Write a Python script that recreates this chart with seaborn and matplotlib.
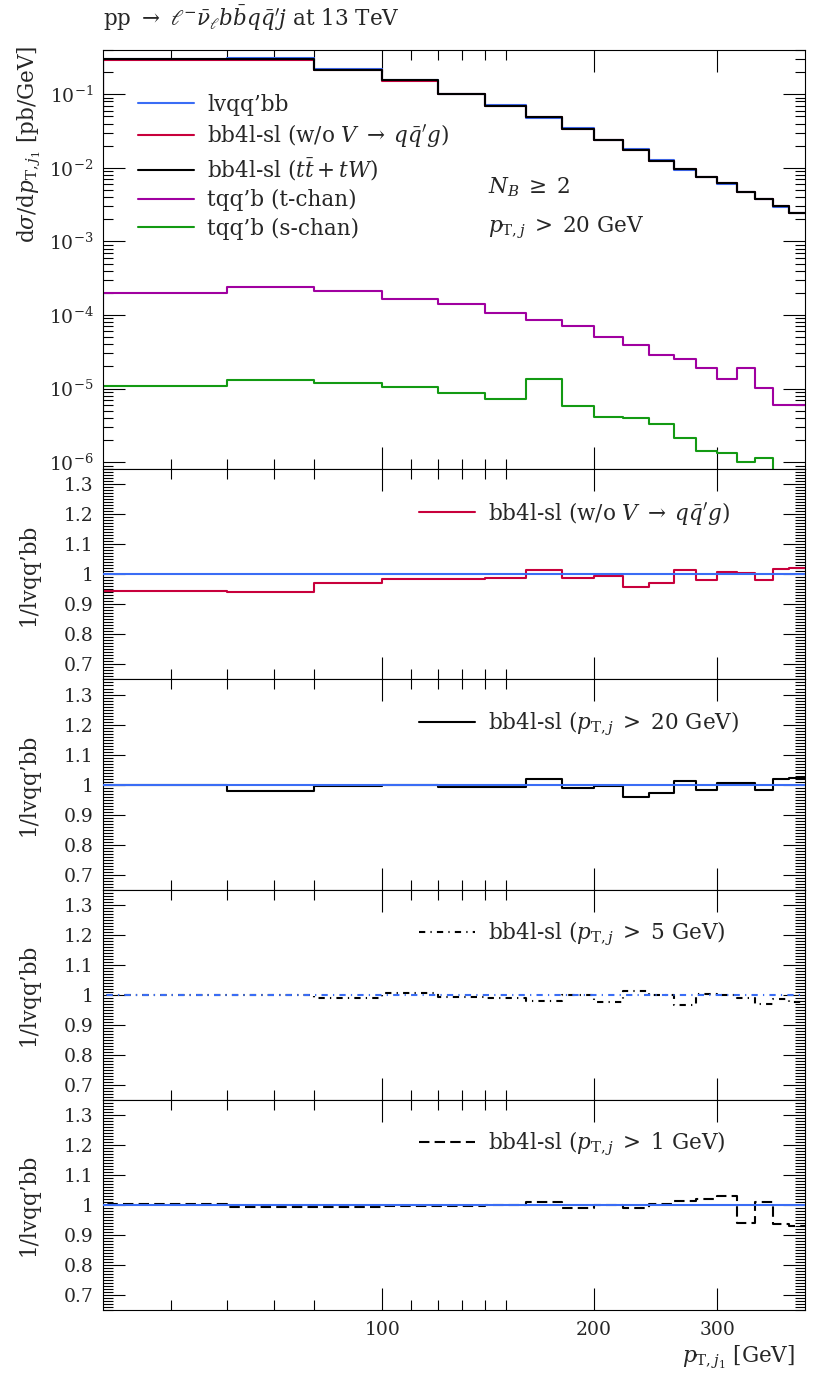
import numpy as np
import matplotlib
matplotlib.use("Agg")
import matplotlib.pyplot as plt
import matplotlib.ticker as mticker
import seaborn as sns

# bin edges in pT (GeV); first bin (20-40) lies left of the visible range
edges = [20, 40, 60, 80, 100, 120, 140, 160, 180, 200, 220, 240, 260, 280, 300, 320, 340, 360, 380, 400]

# dsigma/dpT [pb/GeV]
lvqqbb = [0.055, 0.305, 0.31, 0.218, 0.154, 0.101, 0.0705, 0.048, 0.0345, 0.0238, 0.0182, 0.0129,
          0.0094, 0.0076, 0.0061, 0.0047, 0.0038, 0.00294, 0.00241]
tchan = [9.1e-5, 2.01e-4, 2.43e-4, 2.12e-4, 1.63e-4, 1.39e-4, 1.07e-4, 8.5e-5, 7.1e-5, 5.0e-5, 3.9e-5,
         2.9e-5, 2.5e-5, 1.9e-5, 1.36e-5, 1.91e-5, 1.02e-5, 6.0e-6, 6.0e-6]
schan = [3.0e-6, 1.1e-5, 1.31e-5, 1.19e-5, 1.06e-5, 8.6e-6, 7.25e-6, 1.35e-5, 5.75e-6, 4.07e-6, 3.97e-6,
         3.3e-6, 2.16e-6, 1.41e-6, 1.35e-6, 1.02e-6, 1.14e-6, 1e-9, 1e-9]

# ratios to lvqq'bb
ratio_noV = [0.85, 0.944, 0.943, 0.972, 0.984, 0.985, 0.988, 1.014, 0.987, 0.994, 0.959, 0.970,
             1.014, 0.981, 1.007, 1.005, 0.981, 1.019, 1.022]
ratio_pt20 = [1.0, 0.998, 0.978, 0.994, 1.0, 0.992, 0.992, 1.017, 0.987, 0.994, 0.957, 0.971,
              1.012, 0.981, 1.006, 1.004, 0.981, 1.018, 1.021]
ratio_pt5 = [1.0, 1.0, 1.0, 0.988, 1.007, 0.994, 0.990, 0.980, 0.998, 0.975, 1.012, 0.999,
             0.966, 1.002, 0.999, 0.990, 0.968, 0.985, 0.975]
ratio_pt1 = [1.0, 1.003, 0.993, 0.993, 0.995, 0.997, 1.0, 1.01, 0.991, 1.0, 0.991, 1.004,
             1.012, 1.02, 1.029, 0.94, 1.01, 0.938, 0.929]

x_major = [100, 200, 300]
x_major_labels = ["100", "200", "300"]
x_minor = [50, 60, 70, 80, 110, 120, 130, 140, 150]
r_ticks = [0.7, 0.8, 0.9, 1.0, 1.1, 1.2, 1.3]
r_ticklabels = ["0.7", "0.8", "0.9", "1", "1.1", "1.2", "1.3"]

BLUE = "#3a6df5"
RED = "#c8003c"
MAGENTA = "#a000a0"
GREEN = "#139a13"
FS = 15.5

sns.set_style("ticks")
plt.rcParams["font.family"] = ["DejaVu Serif"]
plt.rcParams["mathtext.fontset"] = "dejavuserif"
plt.rcParams["axes.linewidth"] = 0.8

noV = [a * b for a, b in zip(lvqqbb, ratio_noV)]
ttw = [a * b for a, b in zip(lvqqbb, ratio_pt20)]


def step(ax, vals, color, label=None, ls="-", lw=1.5, z=2):
    y = list(vals) + [vals[-1]]
    sns.lineplot(x=edges, y=y, ax=ax, color=color, lw=lw, linestyle=ls,
                 drawstyle="steps-post", label=label, zorder=z, legend=False)


fig = plt.figure(figsize=(8.3, 13.8), dpi=100)
gs = fig.add_gridspec(5, 1, height_ratios=[419, 210, 210, 210, 210], hspace=0,
                      left=0.1241, right=0.9699, top=0.9638, bottom=0.0507)
axes = [fig.add_subplot(gs[i]) for i in range(5)]

for ax in axes:
    ax.set_xscale("log")

# main panel
ax = axes[0]
ax.set_yscale("log")
step(ax, lvqqbb, BLUE, "lvqq’bb")
step(ax, noV, RED, r"bb4l-sl (w/o $V\;\rightarrow\;q\bar{q}^{\prime}g$)")
step(ax, ttw, "black", r"bb4l-sl ($t\bar{t} + tW$)")
step(ax, tchan, MAGENTA, "tqq’b (t-chan)")
step(ax, schan, GREEN, "tqq’b (s-chan)")
ax.set_ylim(8e-7, 0.4)
ax.yaxis.set_major_locator(mticker.LogLocator(base=10, numticks=20))
ax.yaxis.set_minor_locator(mticker.LogLocator(base=10, subs=np.arange(2, 10), numticks=50))
ax.yaxis.set_minor_formatter(mticker.NullFormatter())
ax.legend(loc="upper left", bbox_to_anchor=(0.05, 0.895), frameon=False, fontsize=FS,
          handlelength=2.6, handletextpad=0.6, labelspacing=0.3, borderpad=0, borderaxespad=0)
ax.text(0.548, 0.673, r"$N_B\;\geq\;2$", transform=ax.transAxes, fontsize=FS, va="center")
ax.text(0.548, 0.575, r"$p_{\mathrm{T},j}\;>\;20$ GeV", transform=ax.transAxes, fontsize=FS, va="center")
ax.set_ylabel(r"d$\sigma$/d$p_{\mathrm{T},j_1}$ [pb/GeV]", fontsize=FS, loc="top")
ax.yaxis.set_label_coords(-0.085, 1.01)

# ratio panels
ratio_sets = [
    (ratio_noV, RED, "-", "-", r"bb4l-sl (w/o $V\;\rightarrow\;q\bar{q}^{\prime}g$)"),
    (ratio_pt20, "black", "-", "-", r"bb4l-sl ($p_{\mathrm{T},j}\;>\;20$ GeV)"),
    (ratio_pt5, "black", (0, (3, 2.5, 0.6, 2.5)), (0, (3, 2.5, 0.6, 2.5)), r"bb4l-sl ($p_{\mathrm{T},j}\;>\;5$ GeV)"),
    (ratio_pt1, "black", (0, (5, 2.5)), "-", r"bb4l-sl ($p_{\mathrm{T},j}\;>\;1$ GeV)"),
]
ones = [1.0] * len(lvqqbb)
for ax, (vals, col, ls, ref_ls, lab) in zip(axes[1:], ratio_sets):
    step(ax, vals, col, lab, ls=ls, z=2)
    step(ax, ones, BLUE, None, ls=ref_ls, z=3)
    ax.set_ylim(0.65, 1.35)
    ax.yaxis.set_major_locator(mticker.FixedLocator(r_ticks))
    ax.yaxis.set_major_formatter(mticker.FixedFormatter(r_ticklabels))
    ax.yaxis.set_minor_locator(mticker.MultipleLocator(0.01))
    ax.legend(loc="upper left", bbox_to_anchor=(0.45, 0.855), frameon=False, fontsize=FS,
              handlelength=2.6, handletextpad=0.6, borderpad=0, borderaxespad=0)
    ax.set_ylabel("1/lvqq’bb", fontsize=FS)
    ax.yaxis.set_label_coords(-0.09, 0.5)

for i, ax in enumerate(axes):
    ax.set_xlim(40, 400)
    ax.xaxis.set_major_locator(mticker.FixedLocator(x_major))
    ax.xaxis.set_minor_locator(mticker.FixedLocator(x_minor))
    ax.xaxis.set_minor_formatter(mticker.NullFormatter())
    ax.xaxis.set_major_formatter(mticker.FixedFormatter(x_major_labels))
    ax.tick_params(which="both", direction="in", top=True, right=True, width=0.8,
                   labelsize=FS - 2, color="black")
    ax.tick_params(which="major", length=16)
    ax.tick_params(which="minor", length=7)
    ax.tick_params(axis="y", pad=7)
    ax.tick_params(axis="x", pad=8, labelbottom=(i == 4))
    for s in ax.spines.values():
        s.set_color("black")

axes[-1].set_xlabel(r"$p_{\mathrm{T},j_1}$ [GeV]", fontsize=FS, loc="right")
axes[-1].xaxis.set_label_coords(0.985, -0.16)

fig.text(103 / 830, 1 - 18 / 1380, r"pp $\rightarrow$ $\ell^{-}\bar{\nu}_{\ell}b\bar{b}q\bar{q}^{\prime}j$ at 13 TeV",
         fontsize=FS, va="center", ha="left")

fig.savefig("out.png", dpi=100)
